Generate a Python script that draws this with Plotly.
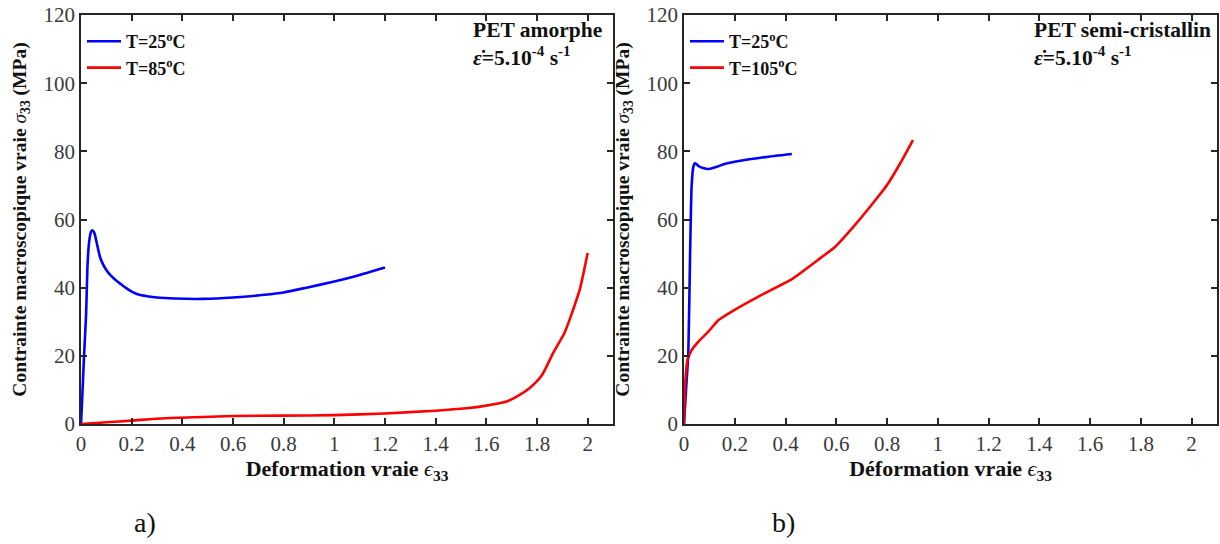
import plotly.graph_objects as go

# ---- Data ----
# Panel a) PET amorphe
a25_x = [0, 0.005, 0.012, 0.02, 0.026, 0.033, 0.04, 0.046, 0.053, 0.063, 0.075, 0.086, 0.1, 0.118, 0.14, 0.158,
         0.18, 0.204, 0.23, 0.26, 0.3, 0.37, 0.48, 0.6, 0.725, 0.8, 0.89, 1.0, 1.09, 1.2]
a25_y = [0, 8, 20, 32, 47, 54, 56.5, 56.8, 56, 52.8, 49, 47, 45.2, 43.5, 42, 41,
         39.8, 38.7, 37.9, 37.5, 37.1, 36.8, 36.7, 37.1, 37.9, 38.6, 40.0, 41.8, 43.5, 45.9]
a85_x = [0, 0.1, 0.2, 0.33, 0.48, 0.6, 0.8, 1.0, 1.2, 1.4, 1.52, 1.6, 1.68, 1.72, 1.77, 1.82, 1.86, 1.91, 1.94, 1.97, 2.0]
a85_y = [0, 0.5, 1.0, 1.7, 2.05, 2.35, 2.45, 2.6, 3.1, 3.9, 4.6, 5.4, 6.6, 8.0, 10.5, 14.4, 20.3, 27, 33, 39.8, 50.2]

# Panel b) PET semi-cristallin
b25_x = [0, 0.008, 0.017, 0.024, 0.03, 0.037, 0.043, 0.05, 0.057, 0.075, 0.096, 0.13, 0.16, 0.228, 0.32, 0.425]
b25_y = [0, 10, 20.7, 50, 69.7, 75.5, 76.5, 76.2, 75.7, 75.1, 74.8, 75.5, 76.3, 77.3, 78.3, 79.2]
b105_x = [0, 0.004, 0.014, 0.03, 0.057, 0.096, 0.136, 0.188, 0.293, 0.425, 0.536, 0.596, 0.668, 0.734, 0.8, 0.852, 0.902]
b105_y = [0, 11, 18.8, 21.7, 24.2, 27.1, 30.5, 33, 37.4, 42.5, 48.6, 52, 57.9, 63.8, 70.1, 76.5, 83.3]

x_ticks = [0, 0.2, 0.4, 0.6, 0.8, 1, 1.2, 1.4, 1.6, 1.8, 2]
x_ticklabels = ["0", "0.2", "0.4", "0.6", "0.8", "1", "1.2", "1.4", "1.6", "1.8", "2"]
y_ticks = [0, 20, 40, 60, 80, 100, 120]

SERIF = "Liberation Serif"
AX = "#262626"
W = 1220
H = 544

fig = go.Figure()
fig.add_trace(go.Scatter(x=a25_x, y=a25_y, mode="lines", line=dict(color="#0000ff", width=2.6, shape="spline", smoothing=0.6),
                         name="<b>T=25<sup>o</sup>C</b>", xaxis="x", yaxis="y", legend="legend"))
fig.add_trace(go.Scatter(x=a85_x, y=a85_y, mode="lines", line=dict(color="#ff0000", width=2.6, shape="spline", smoothing=0.6),
                         name="<b>T=85<sup>o</sup>C</b>", xaxis="x", yaxis="y", legend="legend"))
fig.add_trace(go.Scatter(x=b25_x, y=b25_y, mode="lines", line=dict(color="#0000ff", width=2.6, shape="spline", smoothing=0.5),
                         name="<b>T=25<sup>o</sup>C</b>", xaxis="x2", yaxis="y2", legend="legend2"))
fig.add_trace(go.Scatter(x=b105_x, y=b105_y, mode="lines", line=dict(color="#ff0000", width=2.6, shape="spline", smoothing=0.5),
                         name="<b>T=105<sup>o</sup>C</b>", xaxis="x2", yaxis="y2", legend="legend2"))

ydom = [1 - 424 / H, 1 - 15 / H]
common_x = dict(range=[0, 2.1], tickmode="array", tickvals=x_ticks, ticktext=x_ticklabels,
                ticks="inside", ticklen=6, tickwidth=1.5, tickcolor=AX, mirror="allticks",
                showline=True, linecolor=AX, linewidth=1.8, showgrid=False, zeroline=False,
                automargin=False,
                tickfont=dict(family=SERIF, size=21, color="#3a3a3a"))
common_y = dict(range=[0, 120], tickmode="array", tickvals=y_ticks,
                ticks="inside", ticklen=6, tickwidth=1.5, tickcolor=AX, mirror="allticks",
                showline=True, linecolor=AX, linewidth=1.8, showgrid=False, zeroline=False,
                automargin=False,
                tickfont=dict(family=SERIF, size=21, color="#3a3a3a"))

ytitle = "<b>Contrainte macroscopique vraie </b><i>σ</i><b><sub>33</sub> (MPa)</b>"
yfont = dict(family=SERIF, size=19.5, color="#111")
xfont = dict(family=SERIF, size=22, color="#111")

fig.update_layout(
    width=W, height=H,
    margin=dict(l=0, r=0, t=0, b=0),
    paper_bgcolor="white", plot_bgcolor="white",
    xaxis=dict(domain=[81 / W, 613 / W], anchor="y",
               title=dict(text="<b>Deformation vraie </b><i>ϵ</i><b><sub>33</sub></b>", font=xfont, standoff=2),
               **common_x),
    yaxis=dict(domain=ydom, anchor="x",
               title=dict(text=ytitle, font=yfont, standoff=12), **common_y),
    xaxis2=dict(domain=[684 / W, 1217 / W], anchor="y2",
                title=dict(text="<b>Déformation vraie </b><i>ϵ</i><b><sub>33</sub></b>", font=xfont, standoff=2),
                **common_x),
    yaxis2=dict(domain=ydom, anchor="x2",
                title=dict(text=ytitle, font=yfont, standoff=12), **common_y),
    legend=dict(x=82 / W, y=1 - 23 / H, xanchor="left", yanchor="top", bgcolor="rgba(0,0,0,0)",
                font=dict(family=SERIF, size=18, color="#111"), itemwidth=34, tracegroupgap=0),
    legend2=dict(x=685 / W, y=1 - 23 / H, xanchor="left", yanchor="top", bgcolor="rgba(0,0,0,0)",
                 font=dict(family=SERIF, size=18, color="#111"), itemwidth=34, tracegroupgap=0),
    showlegend=True,
)

ann_font = dict(family=SERIF, size=21.5, color="#111")
rate = "<b><i>ε̇</i>=5.10<sup>-4</sup> s<sup>-1</sup></b>"
fig.add_annotation(x=471 / W, y=1 - 16 / H, xref="paper", yref="paper", xanchor="left", yanchor="top",
                   align="left", showarrow=False, font=ann_font,
                   text="<b>PET amorphe</b><br>" + rate)
fig.add_annotation(x=1032 / W, y=1 - 16 / H, xref="paper", yref="paper", xanchor="left", yanchor="top",
                   align="left", showarrow=False, font=ann_font,
                   text="<b>PET semi-cristallin</b><br>" + rate)
fig.add_annotation(x=145 / W, y=1 - 522 / H, xref="paper", yref="paper", xanchor="center", yanchor="middle",
                   showarrow=False, font=dict(family=SERIF, size=28, color="#111"), text="a)")
fig.add_annotation(x=783 / W, y=1 - 522 / H, xref="paper", yref="paper", xanchor="center", yanchor="middle",
                   showarrow=False, font=dict(family=SERIF, size=28, color="#111"), text="b)")

fig.write_html("out.html", config={"displayModeBar": False},
               post_script="document.body.style.margin='0';document.body.style.padding='0';document.body.style.overflow='hidden';")
